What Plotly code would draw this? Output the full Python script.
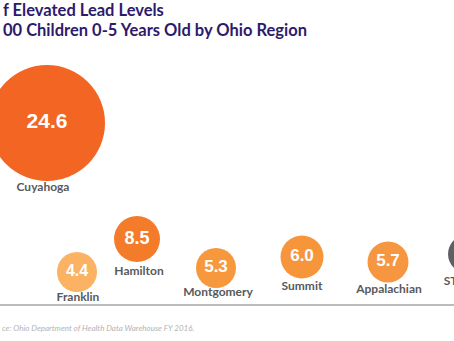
import plotly.graph_objects as go

# ---- data ----
regions = ["Cuyahoga", "Franklin", "Hamilton", "Montgomery", "Summit", "Appalachian", "STATE"]
values = [24.6, 4.4, 8.5, 5.3, 6.0, 5.7, None]
value_labels = ["24.6", "4.4", "8.5", "5.3", "6.0", "5.7", ""]

title_lines = ["f Elevated Lead Levels", "00 Children 0-5 Years Old by Ohio Region"]
source_text = "ce: Ohio Department of Health Data Warehouse FY 2016."

# ---- layout (pixel-like units of the canvas) ----
x_pos = [47, 77, 137, 216, 302, 388, 467]
y_pos = [123, 272, 239, 268, 257, 262, 254]
diam = [116, 40, 46, 40, 43, 41, 38]
label_y = [188, 298, 272, 293, 287, 290, 282]
label_x = [43, 78, 139, 218, 302, 389, 461]
colors = ["#f26522", "#fbb262", "#f47b2a", "#f8983c", "#f7953a", "#f79640", "#5f6062"]
num_sizes = [21, 16, 18, 17, 17, 17, 16]

W, H = 454, 341
fig = go.Figure()

fig.add_trace(go.Scatter(
    x=x_pos, y=y_pos, mode="markers+text",
    marker=dict(size=diam, color=colors, line=dict(width=0), opacity=1),
    text=value_labels, textposition="middle center",
    textfont=dict(family="Liberation Sans, Arial", size=num_sizes, color="white", weight="bold"),
    hoverinfo="skip", showlegend=False,
))

fig.add_trace(go.Scatter(
    x=label_x, y=label_y, mode="text", text=regions,
    textposition="middle center",
    textfont=dict(family="Lato", size=12, color="#58595b", weight="bold"),
    hoverinfo="skip", showlegend=False,
))

# baseline rule
fig.add_shape(type="line", x0=0, x1=W, y0=305, y1=305, xref="x", yref="y",
              line=dict(color="#bcbcbc", width=2))

# title
fig.add_annotation(x=1, y=10, xref="x", yref="y", text=title_lines[0], showarrow=False,
                   xanchor="left", yanchor="middle",
                   font=dict(family="Lato", size=16.5, color="#2e1a6b", weight="bold"))
fig.add_annotation(x=1, y=29.5, xref="x", yref="y", text=title_lines[1], showarrow=False,
                   xanchor="left", yanchor="middle",
                   font=dict(family="Lato", size=16.5, color="#2e1a6b", weight="bold"))

# source
fig.add_annotation(x=0, y=1 - 328 / H, xref="paper", yref="paper", text="<i>" + source_text + "</i>",
                   showarrow=False, xanchor="left", yanchor="middle",
                   font=dict(family="Lato", size=8, color="#b3b3b3"))

fig.update_xaxes(range=[0, W], visible=False, fixedrange=True)
fig.update_yaxes(range=[H, 0], visible=False, fixedrange=True)
fig.update_layout(
    width=W, height=H, margin=dict(l=0, r=0, t=0, b=0, pad=0),
    paper_bgcolor="white", plot_bgcolor="white",
)

fig.write_html("out.html", config={"displayModeBar": False})
